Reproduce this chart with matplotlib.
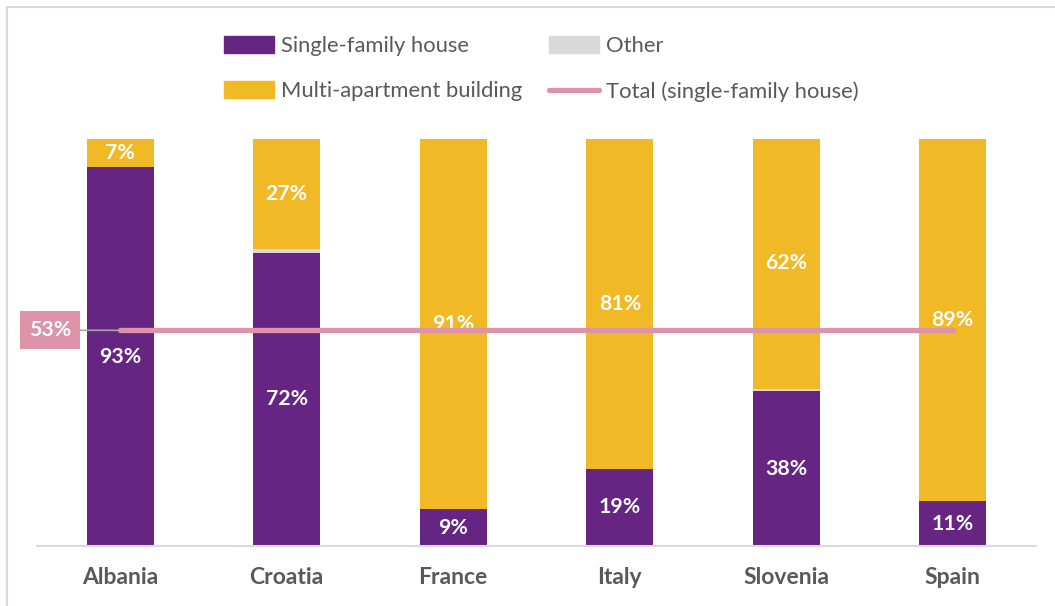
import matplotlib
matplotlib.use("Agg")
import matplotlib.pyplot as plt
from matplotlib.lines import Line2D
from matplotlib.patches import Patch
import numpy as np

countries = ["Albania", "Croatia", "France", "Italy", "Slovenia", "Spain"]
single_family = [93, 72, 9, 19, 38, 11]
other = [0, 1, 0, 0, 0.5, 0]
multi_apartment = [7, 27, 91, 81, 62, 89]
total_single_family = 53

PURPLE = "#662483"
YELLOW = "#F2B927"
GREY = "#D9D9D9"
PINK = "#DE93A8"
TEXT = "#595959"

plt.rcParams["font.family"] = ["Lato", "DejaVu Sans"]

fig = plt.figure(figsize=(10.55, 6.06), dpi=100)
ax = fig.add_axes([37 / 1055, 60 / 606, 999 / 1055, 407 / 606])

x = np.arange(len(countries))
w = 0.40
sf = np.array(single_family, dtype=float)
ot = np.array(other, dtype=float)
ma = np.array(multi_apartment, dtype=float)

ax.bar(x, sf, w, color=PURPLE, zorder=2)
ax.bar(x, ot, w, bottom=sf, color=GREY, zorder=2)
ax.bar(x, ma, w, bottom=sf + ot, color=YELLOW, zorder=2)

LABEL_SIZE = 15.3
for xi, s, o, m in zip(x, sf, ot, ma):
    ax.text(xi, s / 2, f"{s:.0f}%", ha="center", va="center",
            color="white", fontsize=LABEL_SIZE, fontweight="bold", zorder=3)
    ax.text(xi, s + o + m / 2, f"{m:.0f}%", ha="center", va="center",
            color="white", fontsize=LABEL_SIZE, fontweight="bold", zorder=3)

# Overall share of single-family houses
ax.plot([x[0], x[-1]], [total_single_family] * 2, color=PINK, lw=3.8,
        solid_capstyle="round", zorder=4)
ax.annotate(f"{total_single_family}%", xy=(x[0], total_single_family),
            xytext=(-70, 0), textcoords="offset pixels",
            ha="center", va="center", color="white", fontsize=LABEL_SIZE,
            fontweight="bold",
            bbox=dict(boxstyle="square,pad=0.42", fc=PINK, ec="none"),
            arrowprops=dict(arrowstyle="-", color="#A6A6A6", lw=1.2,
                            shrinkA=0, shrinkB=0),
            zorder=5, annotation_clip=False)

ax.set_xlim(-0.5, len(countries) - 0.5)
ax.set_ylim(0, 100)
ax.set_yticks([])
ax.set_xticks(x)
ax.set_xticklabels(countries, fontsize=16.5, fontweight="bold", color=TEXT)
ax.tick_params(axis="x", length=0, pad=15)
for side in ("top", "right", "left"):
    ax.spines[side].set_visible(False)
ax.spines["bottom"].set_color(GREY)
ax.spines["bottom"].set_linewidth(1.5)

handles = [
    Patch(color=PURPLE, label="Single-family house"),
    Patch(color=YELLOW, label="Multi-apartment building"),
    Patch(color=GREY, label="Other"),
    Line2D([0], [0], color=PINK, lw=3.8, solid_capstyle="round",
           label="Total (single-family house)"),
]
leg = fig.legend(handles=handles, ncol=2, loc="upper left",
                 bbox_to_anchor=(224 / 1055, 1 - 36 / 606),
                 frameon=False, fontsize=15.8, labelcolor=TEXT,
                 handlelength=2.3, handleheight=0.8, handletextpad=0.3,
                 columnspacing=1.2, labelspacing=1.15, borderpad=0,
                 borderaxespad=0)

# Light frame around the figure
fig.add_artist(Line2D([7 / 1055, 1], [1 - 7 / 606] * 2, color=GREY, lw=1.5,
                      transform=fig.transFigure))
fig.add_artist(Line2D([7 / 1055] * 2, [0, 1 - 7 / 606], color=GREY, lw=1.5,
                      transform=fig.transFigure))

fig.savefig("out.png", dpi=100)
